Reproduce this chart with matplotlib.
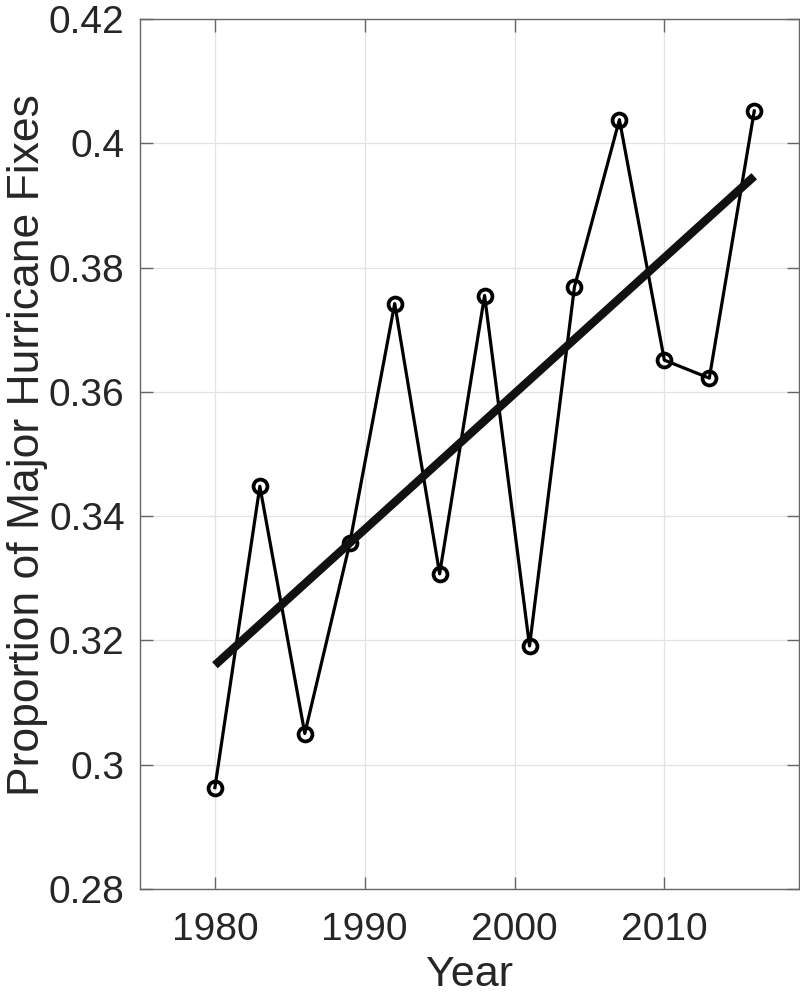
import matplotlib
matplotlib.use("Agg")
import matplotlib.pyplot as plt
import numpy as np

years = [1980, 1983, 1986, 1989, 1992, 1995, 1998, 2001, 2004, 2007, 2010, 2013, 2016]
proportion = [0.2963, 0.3448, 0.3050, 0.3356, 0.3742, 0.3307, 0.3755, 0.3191,
              0.3769, 0.4038, 0.3651, 0.3622, 0.4052]
trend_years = [1980, 2016]
trend_values = [0.3160, 0.3947]
xticks = [1980, 1990, 2000, 2010]
yticks = [0.28, 0.30, 0.32, 0.34, 0.36, 0.38, 0.40, 0.42]
ytick_labels = ["0.28", "0.3", "0.32", "0.34", "0.36", "0.38", "0.4", "0.42"]

plt.rcParams['font.family'] = ['Liberation Sans', 'DejaVu Sans']
text_color = '#262626'

fig = plt.figure(figsize=(8, 10.01), dpi=100)
ax = fig.add_axes([0.175, 0.112, 0.824, 0.869])

ax.plot(years, proportion, color='black', lw=2.3, marker='o', markersize=10,
        markerfacecolor='none', markeredgecolor='black', markeredgewidth=2.7, zorder=3)
ax.plot(trend_years, trend_values, color='#111111', lw=6.0, solid_capstyle='butt', zorder=4)

ax.set_xlim(1975, 2019)
ax.set_ylim(0.28, 0.42)
ax.set_xticks(xticks)
ax.set_yticks(yticks)
ax.set_yticklabels(ytick_labels)

ax.grid(True, color='#e3e3e3', lw=0.9)
ax.set_axisbelow(True)
for s in ax.spines.values():
    s.set_color('#666666')
    s.set_linewidth(1.0)
ax.tick_params(direction='in', length=9, width=1.0, color='#666666',
               top=True, right=True, labelsize=28, labelcolor=text_color)
ax.tick_params(axis='y', pad=11)
ax.tick_params(axis='x', pad=17)

ax.set_xlabel('Year', fontsize=31, color=text_color, labelpad=5)
ax.set_ylabel('Proportion of Major Hurricane Fixes', fontsize=32, color=text_color, labelpad=3)
ax.yaxis.set_label_coords(-0.14, 0.51)

fig.savefig('out.png', dpi=100)
